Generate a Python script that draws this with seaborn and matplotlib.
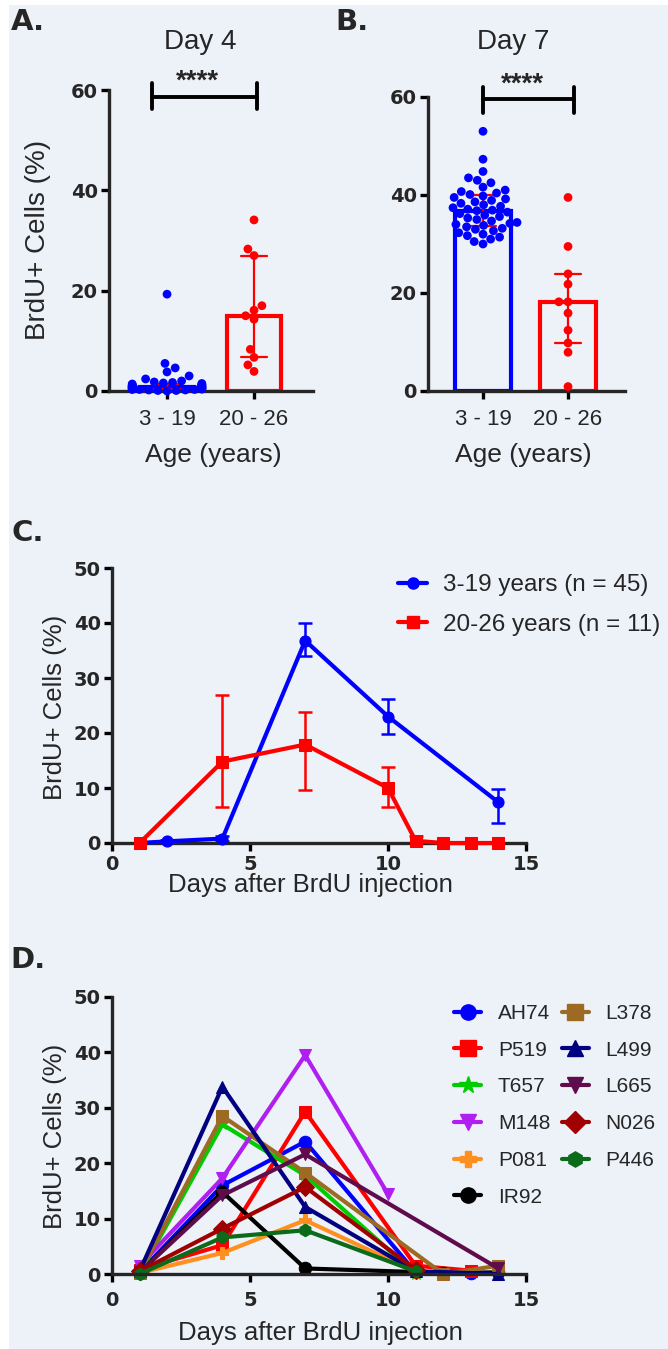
import numpy as np
import pandas as pd
import matplotlib
matplotlib.use('Agg')
import matplotlib.pyplot as plt
import seaborn as sns
from matplotlib.lines import Line2D
from matplotlib.patches import Rectangle

# ---- panels A / B : individual donors ----
groups = ["3 - 19", "20 - 26"]
day4_young = [19.3, 5.5, 4.6, 3.8, 3.0, 2.4, 2.0, 1.8, 1.7, 1.6, 1.5, 1.4, 1.3, 1.2, 1.2,
              1.1, 1.1, 1.0, 1.0, 0.9, 0.9, 0.9, 0.8, 0.8, 0.8, 0.7, 0.7, 0.7, 0.6, 0.6,
              0.6, 0.5, 0.5, 0.5, 0.4, 0.4, 0.4, 0.3, 0.3, 0.3, 0.2, 0.2, 0.1, 0.1, 0.0]
day4_old = [34.1, 28.3, 27.0, 17.0, 16.1, 15.0, 14.3, 8.3, 6.7, 5.2, 3.9]
day7_young = [53.0, 47.3, 44.8, 43.5, 43.0, 42.5, 41.6, 41.0, 40.7, 40.4, 40.1, 39.8, 39.5,
              39.2, 38.9, 38.6, 38.3, 38.0, 37.7, 37.4, 37.1, 36.9, 36.8, 36.5, 36.2, 35.9,
              35.6, 35.3, 35.0, 34.7, 34.4, 34.2, 34.0, 33.8, 33.5, 33.2, 33.0, 32.7, 32.3,
              32.0, 31.7, 31.4, 31.0, 30.5, 30.0]
day7_old = [39.5, 29.5, 23.9, 21.8, 18.2, 18.2, 15.9, 12.4, 9.8, 7.9, 0.9]

# ---- panel C : median with interquartile range ----
c_labels = ["3-19 years (n = 45)", "20-26 years (n = 11)"]
c_days_young = [1, 2, 4, 7, 10, 14]
c_med_young = [0.0, 0.3, 0.8, 36.8, 23.0, 7.4]
c_lo_young = [0.0, 0.1, 0.4, 34.0, 19.8, 3.7]
c_hi_young = [0.0, 0.5, 1.2, 40.0, 26.1, 9.8]
c_days_old = [1, 4, 7, 10, 11, 12, 13, 14]
c_med_old = [0.0, 14.8, 17.9, 10.0, 0.4, 0.0, 0.0, 0.0]
c_lo_old = [0.0, 6.5, 9.7, 6.6, 0.0, 0.0, 0.0, 0.0]
c_hi_old = [0.0, 26.9, 23.8, 13.8, 1.3, 0.0, 0.0, 0.0]

# ---- panel D : single donors ----
d_ids = ["AH74", "P519", "T657", "M148", "P081", "IR92",
         "L378", "L499", "L665", "N026", "P446"]
d_days = {
    "AH74": [1, 4, 7, 11, 13], "P519": [1, 4, 7, 11, 13], "T657": [1, 4, 7, 11],
    "M148": [1, 4, 7, 10], "P081": [1, 4, 7, 11], "IR92": [1, 4, 7, 12, 14],
    "L378": [1, 4, 7, 12, 14], "L499": [1, 4, 7, 11, 14], "L665": [1, 4, 7, 14],
    "N026": [1, 4, 7, 11], "P446": [1, 4, 7, 11],
}
d_vals = {
    "AH74": [0.3, 16.0, 23.9, 0.3, 0.2], "P519": [0.8, 5.2, 29.3, 1.5, 0.6],
    "T657": [0.0, 27.0, 17.8, 0.0], "M148": [1.5, 17.3, 39.5, 14.4],
    "P081": [0.2, 3.8, 9.7, 0.4], "IR92": [0.3, 14.8, 1.0, 0.2, 0.3],
    "L378": [0.2, 28.5, 18.3, 0.0, 1.5], "L499": [0.5, 33.8, 12.1, 0.5, 0.0],
    "L665": [0.3, 14.2, 21.6, 1.0], "N026": [0.5, 8.2, 15.7, 0.8],
    "P446": [0.0, 6.6, 7.9, 0.5],
}
d_colors = {"AH74": "#0000FF", "P519": "#FF0000", "T657": "#00CC00", "M148": "#B01EF0",
            "P081": "#FF9020", "IR92": "#000000", "L378": "#9C6A22", "L499": "#000080",
            "L665": "#5E0C4C", "N026": "#A00000", "P446": "#0B6B1A"}
d_markers = {"AH74": "o", "P519": "s", "T657": "*", "M148": "v", "P081": "P", "IR92": "o",
             "L378": "s", "L499": "^", "L665": "v", "N026": "D", "P446": "h"}

BLUE, RED = "#0000FF", "#FF0000"
BG = "#EDF1F8"
W, H = 668, 1349

sns.set_theme(style="ticks")
plt.rcParams['font.family'] = ['Liberation Sans', 'DejaVu Sans']
plt.rcParams['axes.linewidth'] = 2.4

fig = plt.figure(figsize=(W / 100, H / 100), dpi=100, facecolor="white")
fig.patches.append(Rectangle((9 / W, 0), 1, 1 - 5 / H, transform=fig.transFigure,
                             facecolor=BG, edgecolor="none", zorder=-10))


def rect(left, top, right, bottom):
    return [left / W, 1 - bottom / H, (right - left) / W, (bottom - top) / H]


def ftext(x, y, s, **kw):
    kw.setdefault("ha", "center")
    kw.setdefault("va", "center")
    fig.text(x / W, 1 - y / H, s, **kw)


def iqr(x):
    return (np.percentile(x, 25, method="weibull"), np.percentile(x, 75, method="weibull"))


def bold_ticks(labels):
    for lab in labels:
        lab.set_fontweight("bold")
        lab.set_fontfamily("DejaVu Sans")
        lab.set_fontsize(14)


def style_axes(ax):
    ax.set_facecolor("none")
    sns.despine(ax=ax)
    ax.tick_params(axis="both", length=6, width=2.4, color="black")
    ax.tick_params(axis="y", pad=2)
    bold_ticks(ax.get_yticklabels())
    ax.set_xlabel("")
    ax.set_ylabel("")


def bar_panel(ax, young, old, xlim, width):
    df = pd.DataFrame({"group": [groups[0]] * len(young) + [groups[1]] * len(old),
                       "value": young + old})
    pal = {groups[0]: BLUE, groups[1]: RED}
    sns.barplot(data=df, x="group", y="value", hue="group", palette=pal,
                estimator=np.median, errorbar=iqr, fill=False, width=width,
                linewidth=3, capsize=0.3, err_kws={"linewidth": 1.6},
                legend=False, ax=ax)
    # colour the error bars like their group, keep them under the dots
    for ln in ax.lines:
        xc = np.mean(ln.get_xdata())
        ln.set_color(BLUE if xc < 0.5 else RED)
        ln.set_zorder(2.5)
    n_before = len(ax.collections)
    sns.swarmplot(data=df, x="group", y="value", hue="group", palette=pal, size=6.3,
                  legend=False, ax=ax, warn_thresh=1)
    for coll in ax.collections[n_before:]:
        coll.set_clip_on(False)
        coll.set_zorder(3)
    ax.set_xlim(*xlim)
    ax.set_ylim(0, 60)
    ax.set_yticks([0, 20, 40, 60])
    style_axes(ax)
    ax.tick_params(axis="x", pad=7, labelsize=16)


def sig_bar(ax, x0, x1, y, ylo, yhi, xt, yt):
    ax.plot([x0, x1], [y, y], color="black", lw=2.8, clip_on=False)
    ax.plot([x0, x0], [ylo, yhi], color="black", lw=2.8, clip_on=False)
    ax.plot([x1, x1], [ylo, yhi], color="black", lw=2.8, clip_on=False)
    ax.text(xt, yt, "****", ha="center", va="center", fontsize=20, fontweight="bold",
            clip_on=False)


# ---------------- A ----------------
axA = fig.add_axes(rect(109, 90, 313, 391))
bar_panel(axA, day4_young, day4_old, (-0.667, 1.678), 0.63)
sig_bar(axA, -0.17, 1.03, 58.6, 56.2, 61.4, 0.35, 61.6)
ftext(200, 42, "Day 4", fontsize=20)
ftext(38, 240, "BrdU+ Cells (%)", fontsize=20, rotation=90)
ftext(213, 455, "Age (years)", fontsize=19)
ftext(28, 22, "A.", fontsize=21, fontweight="bold", family="DejaVu Sans")

# ---------------- B ----------------
axB = fig.add_axes(rect(428, 97, 625, 391))
bar_panel(axB, day7_young, day7_old, (-0.647, 1.67), 0.65)
sig_bar(axB, 0.0, 1.07, 59.6, 56.7, 62.0, 0.46, 62.6)
ftext(513, 42, "Day 7", fontsize=20)
ftext(523, 455, "Age (years)", fontsize=19)
ftext(352, 22, "B.", fontsize=21, fontweight="bold", family="DejaVu Sans")

# ---------------- C ----------------
axC = fig.add_axes(rect(112, 568, 526, 843))
dfc = pd.DataFrame({
    "day": c_days_young + c_days_old,
    "value": c_med_young + c_med_old,
    "group": [c_labels[0]] * len(c_days_young) + [c_labels[1]] * len(c_days_old),
})
palC = {c_labels[0]: BLUE, c_labels[1]: RED}
sns.lineplot(data=dfc, x="day", y="value", hue="group", style="group",
             markers={c_labels[0]: "o", c_labels[1]: "s"}, dashes=False, palette=palC,
             linewidth=3, markersize=8, markeredgecolor=None, errorbar=None,
             legend=False, ax=axC, clip_on=False, zorder=3)
for days, med, lo, hi, col in [(c_days_young, c_med_young, c_lo_young, c_hi_young, BLUE),
                               (c_days_old, c_med_old, c_lo_old, c_hi_old, RED)]:
    med = np.array(med)
    yerr = [med - np.array(lo), np.array(hi) - med]
    axC.errorbar(days, med, yerr=yerr, fmt="none", ecolor=col, elinewidth=1.8,
                 capsize=5, capthick=1.8, zorder=2)
axC.set_xlim(0, 15)
axC.set_ylim(0, 50)
axC.set_xticks([0, 5, 10, 15])
axC.set_yticks([0, 10, 20, 30, 40, 50])
style_axes(axC)
axC.tick_params(axis="x", pad=3)
bold_ticks(axC.get_xticklabels())
hC = [Line2D([], [], color=BLUE, marker="o", lw=3, ms=8),
      Line2D([], [], color=RED, marker="s", lw=3, ms=8)]
fig.legend(hC, c_labels, loc="upper left", bbox_to_anchor=(398 / W, 1 - 574 / H),
           frameon=False, fontsize=17.5, handlelength=1.2, handletextpad=0.65,
           borderpad=0, borderaxespad=0, labelspacing=0.72)
ftext(55, 707, "BrdU+ Cells (%)", fontsize=18.5, rotation=90)
ftext(310, 885, "Days after BrdU injection", fontsize=18.5)
ftext(28, 533, "C.", fontsize=21, fontweight="bold", family="DejaVu Sans")

# ---------------- D ----------------
axD = fig.add_axes(rect(112, 997, 526, 1274))
dfd = pd.DataFrame({
    "day": [d for k in d_ids for d in d_days[k]],
    "value": [v for k in d_ids for v in d_vals[k]],
    "donor": [k for k in d_ids for _ in d_days[k]],
})
sns.lineplot(data=dfd, x="day", y="value", hue="donor", style="donor",
             hue_order=d_ids, style_order=d_ids, markers=d_markers, dashes=False,
             palette=d_colors, linewidth=3, markersize=9, markeredgecolor=None,
             errorbar=None, legend=False, ax=axD, clip_on=False)
axD.set_xlim(0, 15)
axD.set_ylim(0, 50)
axD.set_xticks([0, 5, 10, 15])
axD.set_yticks([0, 10, 20, 30, 40, 50])
style_axes(axD)
axD.tick_params(axis="x", pad=6)
bold_ticks(axD.get_xticklabels())
hD = [Line2D([], [], color=d_colors[k], marker=d_markers[k], lw=3,
             ms=13 if d_markers[k] == "*" else 11) for k in d_ids]
fig.legend(hD, d_ids, loc="upper left", bbox_to_anchor=(454 / W, 1 - 1004 / H),
           ncol=2, frameon=False, fontsize=15, handlelength=1.3, handletextpad=0.8,
           columnspacing=0.55, borderpad=0, borderaxespad=0, labelspacing=0.85)
ftext(55, 1136, "BrdU+ Cells (%)", fontsize=18.5, rotation=90)
ftext(320, 1333, "Days after BrdU injection", fontsize=18.5)
ftext(28, 960, "D.", fontsize=21, fontweight="bold", family="DejaVu Sans")

fig.savefig("out.png", dpi=100, facecolor=fig.get_facecolor())
